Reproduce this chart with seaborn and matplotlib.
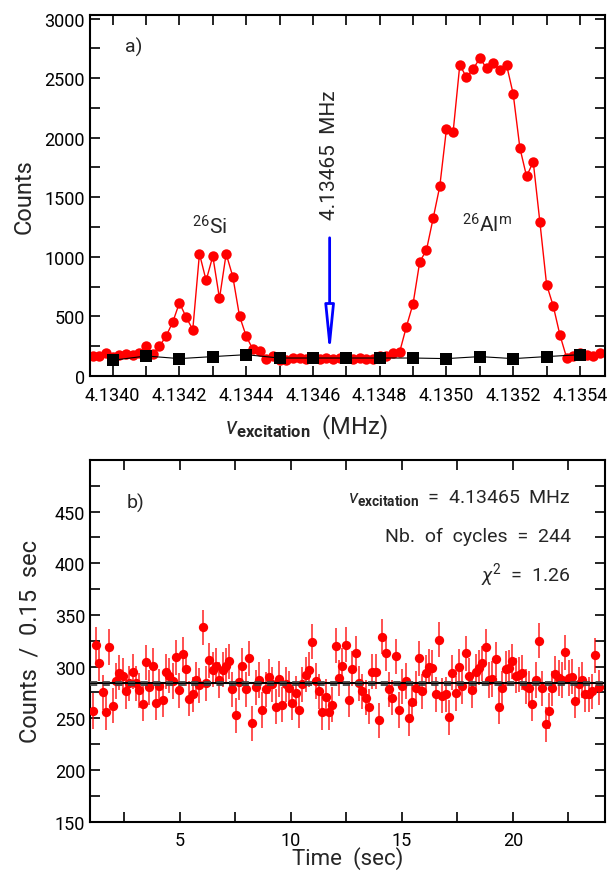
import numpy as np
import pandas as pd
import seaborn as sns
import matplotlib.pyplot as plt
from matplotlib.ticker import MultipleLocator, FormatStrFormatter

# ---- data: panel a) frequency scan ----
# scan grid (MHz), one point every 0.00002 MHz
scan_freq = np.round(np.arange(4.13394, 4.135465, 0.00002), 5)
scan_counts = [168, 168, 196, 160, 173, 182, 173, 196, 255, 182,
               249, 335, 452, 615, 494, 389, 1026, 802, 1006, 651,
               1026, 833, 503, 335, 224, 207, 140, 170, 135, 135,
               150, 150, 145, 150, 145, 150, 140, 150, 150, 140,
               150, 145, 140, 165, 168, 190, 204, 414, 607, 959,
               1056, 1322, 1592, 2073, 2048, 2612, 2506, 2576, 2668, 2584,
               2626, 2570, 2612, 2366, 1914, 1676, 1797, 1290, 768, 587,
               344, 154, 168, 190, 174, 168, 190]
bkg_freq = [4.1340, 4.1341, 4.1342, 4.1343, 4.1344, 4.1345, 4.1346, 4.1347,
            4.1348, 4.1349, 4.1350, 4.1351, 4.1352, 4.1353, 4.1354]
bkg_counts = [132, 168, 146, 163, 179, 151, 151, 151, 151, 151, 146, 163, 146, 163, 179]
f_exc = 4.13465

# ---- data: panel b) time spectrum at f_exc ----
t0, dt = 1.07, 0.15
time_counts = [257, 321, 303, 275, 256, 319, 262, 286, 294, 291,
               276, 284, 295, 284, 277, 264, 304, 280, 301, 265,
               281, 268, 295, 291, 286, 309, 277, 312, 298, 269,
               273, 287, 282, 338, 284, 306, 297, 301, 287, 297,
               301, 305, 278, 253, 285, 301, 278, 308, 245, 280,
               287, 258, 278, 290, 283, 261, 288, 263, 283, 279,
               265, 274, 258, 283, 292, 297, 324, 286, 276, 256,
               271, 256, 263, 320, 289, 301, 321, 268, 298, 313,
               284, 276, 270, 261, 295, 295, 248, 329, 313, 278,
               270, 310, 258, 281, 286, 250, 266, 279, 308, 276,
               294, 300, 299, 273, 326, 272, 273, 251, 294, 274,
               300, 281, 313, 291, 277, 295, 299, 303, 319, 287,
               288, 307, 261, 279, 298, 299, 305, 291, 292, 294,
               281, 279, 264, 287, 325, 279, 244, 257, 279, 293,
               289, 287, 314, 289, 290, 267, 283, 287, 273, 273,
               276, 311, 280]
time_s = t0 + dt * np.arange(len(time_counts))
err = 17          # typical error bar half length
mean_level = 284
mean_band = [282.6, 285.4]

sns.set_style('ticks')
plt.rcParams['font.family'] = ['Roboto', 'DejaVu Sans']
plt.rcParams['mathtext.fontset'] = 'custom'
plt.rcParams['mathtext.rm'] = 'Roboto'
plt.rcParams['mathtext.it'] = 'Roboto:italic'
plt.rcParams['mathtext.bf'] = 'Roboto:bold'

fig = plt.figure(figsize=(6.1, 8.78), dpi=100)
ax1 = fig.add_axes([0.1475, 0.5706, 0.8443, 0.4112])
ax2 = fig.add_axes([0.1475, 0.0632, 0.8443, 0.4117])

# ---- panel a ----
df_scan = pd.DataFrame({'freq': scan_freq, 'counts': scan_counts})
df_bkg = pd.DataFrame({'freq': bkg_freq, 'counts': bkg_counts})
sns.lineplot(data=df_scan, x='freq', y='counts', ax=ax1, color='red', lw=1,
             marker='o', markersize=7.5, markeredgewidth=0, estimator=None, sort=False)
sns.lineplot(data=df_bkg, x='freq', y='counts', ax=ax1, color='black', lw=0.8,
             marker='s', markersize=8, markeredgewidth=0, estimator=None, sort=False)

ax1.annotate('', xy=(f_exc, 165), xytext=(f_exc, 1160),
             arrowprops=dict(arrowstyle='-|>,head_length=2.8,head_width=0.28',
                             ec='blue', fc='white', lw=2, shrinkA=0, shrinkB=0))
ax1.text(f_exc, 1865, '4.13465  MHz', rotation=90, ha='center', va='center', fontsize=15)
ax1.text(4.134064, 2770, 'a)', ha='center', va='center', fontsize=14)
ax1.text(4.13429, 1262, r'$^{26}$Si', ha='center', va='center', fontsize=15)
ax1.text(4.135122, 1276, r'$^{26}$Al$^{\mathrm{m}}$', ha='center', va='center', fontsize=15)

ax1.set_xlim(4.133932, 4.135475)
ax1.set_ylim(0, 3030)
ax1.xaxis.set_major_locator(MultipleLocator(0.0002))
ax1.xaxis.set_minor_locator(MultipleLocator(0.0001))
ax1.xaxis.set_major_formatter(FormatStrFormatter('%.4f'))
ax1.yaxis.set_major_locator(MultipleLocator(500))
ax1.yaxis.set_minor_locator(MultipleLocator(250))
ax1.set_xlabel(r'$\nu_{\mathbf{excitation}}$  (MHz)', fontsize=17)
ax1.set_ylabel('Counts', fontsize=17)
ax1.xaxis.set_label_coords(0.42, -0.1)
ax1.yaxis.set_label_coords(-0.105, 0.5)

# ---- panel b ----
ax2.errorbar(time_s, time_counts, yerr=err, fmt='none', ecolor='red', elinewidth=1.2, alpha=0.8)
sns.scatterplot(x=time_s, y=time_counts, ax=ax2, color='red', s=45, linewidth=0, zorder=3)
ax2.axhline(mean_level, color='black', lw=1.5, zorder=4)
for lvl in mean_band:
    ax2.axhline(lvl, color='#444444', lw=1.3, ls=(0, (4, 3)), zorder=4)

ax2.text(3.0, 459, 'b)', ha='center', va='center', fontsize=14)
ax2.text(22.6, 464, r'$\nu_{\mathbf{excitation}}$  =  4.13465  MHz', ha='right', va='center', fontsize=14)
ax2.text(22.6, 426.5, 'Nb.  of  cycles  =  244', ha='right', va='center', fontsize=14)
ax2.text(22.6, 389.5, r'$\chi^2$  =  1.26', ha='right', va='center', fontsize=14)

ax2.set_xlim(0.95, 24.15)
ax2.set_ylim(150, 500)
ax2.xaxis.set_major_locator(MultipleLocator(5))
ax2.xaxis.set_minor_locator(MultipleLocator(2.5))
ax2.yaxis.set_major_locator(MultipleLocator(50))
ax2.yaxis.set_minor_locator(MultipleLocator(25))
ax2.set_yticks([150, 200, 250, 300, 350, 400, 450])
ax2.set_xlabel('Time  (sec)', fontsize=16)
ax2.set_ylabel('Counts  /  0.15  sec', fontsize=17)
ax2.xaxis.set_label_coords(0.5, -0.068)
ax2.yaxis.set_label_coords(-0.095, 0.5)

for ax in (ax1, ax2):
    ax.tick_params(which='both', direction='in', top=True, right=True,
                   length=7, width=1.2, labelsize=13, colors='black')
    ax.tick_params(axis='x', pad=7)
    for sp in ax.spines.values():
        sp.set_linewidth(1.5)
        sp.set_color('black')

fig.savefig('out.png', dpi=100)
